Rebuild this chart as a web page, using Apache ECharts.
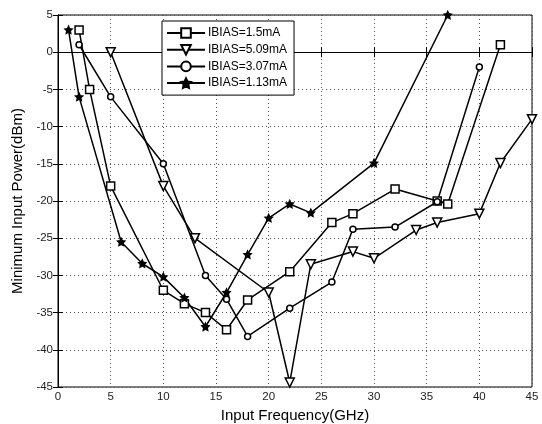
<!DOCTYPE html>
<html>
<head>
<meta charset="utf-8">
<script src="https://cdn.jsdelivr.net/npm/echarts@6/dist/echarts.min.js"></script>
<style>
  html, body { margin: 0; padding: 0; background: #fff; }
  #chart { width: 542px; height: 424px; }
</style>
</head>
<body>
<div id="chart"></div>
<script>
// IBIAS=1.5mA (squares)
const sqX = [2, 3, 5, 10, 12, 14, 16, 18, 22, 26, 28, 32, 36, 37, 42]
const sqY = [3, -5, -18, -32, -33.8, -35, -37.3, -33.3, -29.5, -22.9, -21.7, -18.4, -20, -20.4, 1]
// IBIAS=5.09mA (triangles)
const triX = [5, 10, 13, 20, 22, 24, 28, 30, 34, 36, 40, 42, 45]
const triY = [0, -18, -25, -32.3, -44.4, -28.5, -26.8, -27.7, -23.9, -22.9, -21.7, -14.9, -9]
// IBIAS=3.07mA (circles)
const cirX = [2, 5, 10, 14, 16, 18, 22, 26, 28, 32, 36, 40]
const cirY = [1, -6, -15, -30, -33.2, -38.2, -34.4, -30.9, -23.8, -23.5, -20.1, -2]
// IBIAS=1.13mA (stars)
const starX = [1, 2, 6, 8, 10, 12, 14, 16, 18, 20, 22, 24, 30, 37]
const starY = [3, -6, -25.5, -28.4, -30.2, -33, -36.9, -32.3, -27.2, -22.3, -20.4, -21.6, -14.9, 5]

const names = ['IBIAS=1.5mA', 'IBIAS=5.09mA', 'IBIAS=3.07mA', 'IBIAS=1.13mA']

function pairs(xs, ys) {
  return xs.map(function (x, i) { return [x, ys[i]] })
}

const starPath = 'path://M0,-10L2.9,-4L9.5,-3.1L4.7,1.5L5.9,8.1L0,5L-5.9,8.1L-4.7,1.5L-9.5,-3.1L-2.9,-4Z'

const chart = echarts.init(document.getElementById('chart'))

const font = 'Arial, "Liberation Sans", sans-serif'

function lineSeries(name, data, symbol, size, rotate) {
  return {
    name: name,
    type: 'line',
    data: data,
    symbol: symbol,
    symbolSize: size,
    symbolRotate: rotate || 0,
    showAllSymbol: true,
    color: '#000',
    lineStyle: { color: '#000', width: 1.5 },
    itemStyle: { color: symbol === starPath ? '#000' : '#fff', borderColor: '#000', borderWidth: 1.5 },
    emphasis: { disabled: true }
  }
}

const option = {
  animation: false,
  backgroundColor: '#fff',
  grid: {
    left: 58, right: 10, top: 15, bottom: 37,
    outerBoundsMode: 'none',
    containLabel: false,
    show: true,
    borderColor: '#000',
    borderWidth: 1
  },
  legend: {
    orient: 'vertical',
    left: 162,
    top: 21,
    padding: [6, 7, 6, 4],
    itemGap: 4.7,
    itemWidth: 38,
    itemHeight: 12,
    backgroundColor: '#fff',
    borderColor: '#000',
    borderWidth: 1,
    borderRadius: 0,
    textStyle: { fontFamily: font, fontSize: 12, color: '#000', padding: [0, 0, 0, -2] },
    data: names
  },
  xAxis: [{
    type: 'value',
    min: 0, max: 45, interval: 5,
    name: 'Input Frequency(GHz)',
    nameLocation: 'middle',
    nameGap: 21,
    nameTextStyle: { fontFamily: font, fontSize: 15, color: '#000' },
    axisLine: { lineStyle: { color: '#000' } },
    axisTick: { inside: true, length: 5, lineStyle: { color: '#000' } },
    axisLabel: { fontFamily: font, fontSize: 11.5, color: '#222', margin: 4 },
    splitLine: { show: true, lineStyle: { color: '#555', type: [1, 3], width: 1 } }
  }, {
    type: 'value',
    position: 'top',
    min: 0, max: 45, interval: 5,
    axisLine: { lineStyle: { color: '#000' } },
    axisTick: { inside: true, length: 5, lineStyle: { color: '#000' } },
    axisLabel: { show: false },
    splitLine: { show: false }
  }],
  yAxis: [{
    type: 'value',
    min: -45, max: 5, interval: 5,
    name: 'Minimum Input Power(dBm)',
    nameLocation: 'middle',
    nameGap: 28,
    nameTextStyle: { fontFamily: font, fontSize: 15, color: '#000' },
    axisLine: { show: true, lineStyle: { color: '#000' } },
    axisTick: { show: true, inside: true, length: 5, lineStyle: { color: '#000' } },
    axisLabel: { fontFamily: font, fontSize: 11.5, color: '#222', margin: 5 },
    splitLine: { show: true, lineStyle: { color: '#555', type: [1, 3], width: 1 } }
  }, {
    type: 'value',
    position: 'right',
    min: -45, max: 5, interval: 5,
    axisLine: { show: true, lineStyle: { color: '#000' } },
    axisTick: { show: true, inside: true, length: 5, lineStyle: { color: '#000' } },
    axisLabel: { show: false },
    splitLine: { show: false }
  }],
  series: [
    lineSeries(names[0], pairs(sqX, sqY), 'rect', 8),
    lineSeries(names[1], pairs(triX, triY), 'triangle', 9, 180),
    lineSeries(names[2], pairs(cirX, cirY), 'circle', 6),
    lineSeries(names[3], pairs(starX, starY), starPath, 7)
  ]
}

chart.setOption(option)
</script>
</body>
</html>
